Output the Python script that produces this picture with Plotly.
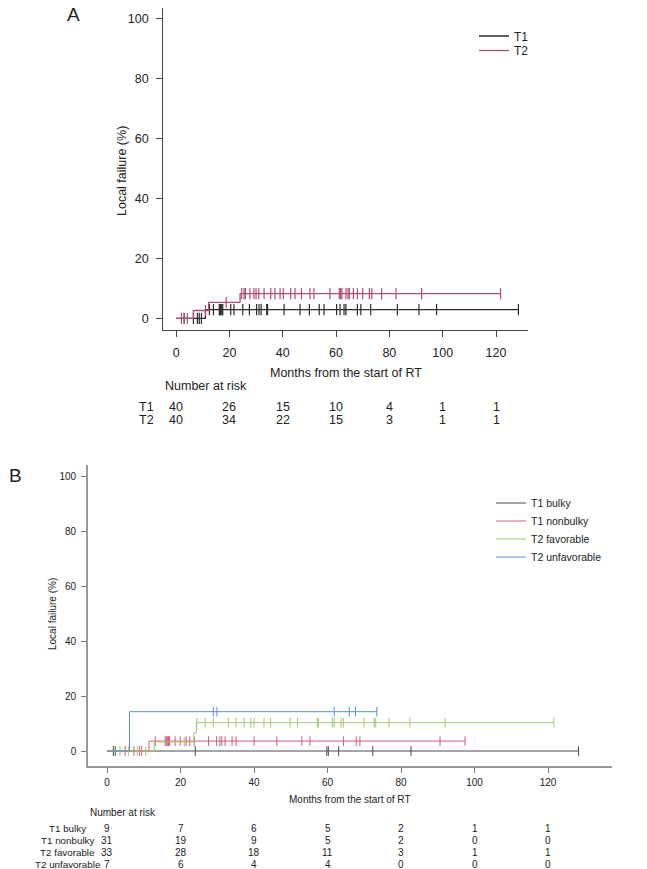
import numpy as np
import plotly.graph_objects as go

W, H = 647, 869
FONT = "Liberation Sans, Arial, sans-serif"

risk_months = [0, 20, 40, 60, 80, 100, 120]

# ---- panel A: T1 vs T2 ----
a_labels = ["T1", "T2"]
a_colors = ["#2b2b2b", "#b0506c"]

t1_event_t = [11.0]
t1_event_y = [2.9]
t1_censor = [3, 6.5, 8, 8.7, 9.5, 12.5, 14, 16.2, 16.4, 16.6, 16.9, 17.2, 17.5,
             20.5, 21.7, 25, 27.5, 30.2, 31.1, 31.9, 34.0, 34.3, 40.5, 46.5,
             50, 53.7, 55.5, 60.2, 61.5, 63, 63.7, 68, 69.3, 73, 83, 91.1,
             97.7, 128.4]
t1_risk = [40, 26, 15, 10, 4, 1, 1]

t2_event_t = [6.5, 12.2, 24.0]
t2_event_y = [2.6, 5.3, 8.2]
t2_censor = [2, 4.2, 11, 18.8, 24.6, 25.5, 26, 27.7, 29.2, 30.0, 31, 33, 35.5,
             37.1, 39.0, 40.2, 43.0, 44.6, 47, 50.2, 51.7, 57.7, 61.2, 61.7,
             62.2, 63.7, 64.5, 65.0, 66.5, 68.0, 70.0, 72.5, 73.4, 77.1, 82.5,
             92.1, 121.7]
t2_risk = [40, 34, 22, 15, 3, 1, 1]

# ---- panel B: four subgroups ----
b_labels = ["T1 bulky", "T1 nonbulky", "T2 favorable", "T2 unfavorable"]
b_colors = ["#4a4a4a", "#d25c78", "#a3c873", "#5a93c8"]

bulky_event_t = []
bulky_event_y = []
bulky_censor = [1.7, 2.2, 24, 59.8, 60.2, 63, 72.3, 82.7, 128.3]
bulky_risk = [9, 7, 6, 5, 2, 1, 1]

nonbulky_event_t = [11.4]
nonbulky_event_y = [3.6]
nonbulky_censor = [4.9, 7.3, 8.8, 9.4, 13.1, 15.8, 16.1, 16.4, 16.7, 17.0, 18.5,
                   19.9, 21.5, 22.5, 23.7, 27.6, 29.8, 30.7, 31.2, 32.1, 34.0,
                   35.1, 40.0, 46.2, 53.0, 55.2, 64.3, 67.8, 68.8, 90.6, 97.4]
nonbulky_risk = [31, 19, 9, 5, 2, 0, 0]

fav_event_t = [12.8, 23.6, 24.3]
fav_event_y = [3.3, 6.6, 10.3]
fav_censor = [3.5, 5.8, 8.2, 10.5, 21, 24.4, 26.7, 28.9, 33, 35.1, 37.3, 39.1,
              40.0, 42.7, 44.5, 49.8, 51.8, 57.2, 57.5, 61.3, 61.8, 63.7, 64.3,
              69.9, 72.7, 73.1, 76.7, 82.4, 92.0, 121.6]
fav_risk = [33, 28, 18, 11, 3, 1, 1]

unfav_event_t = [6.1]
unfav_event_y = [14.3]
unfav_censor = [28.9, 29.9, 61.8, 65.9, 67.6, 73.4]
unfav_risk = [7, 6, 4, 4, 0, 0, 0]


def curve(ev_t, ev_y, cens):
    end = max(cens + ev_t)
    xs = [0] + list(ev_t) + [end]
    ys = [0] + list(ev_y) + [ev_y[-1] if ev_y else 0]
    lv = np.array([0] + list(ev_y))
    cy = lv[np.searchsorted(ev_t, cens, side="right")] if ev_t else np.zeros(len(cens))
    return xs, ys, cy


def px(v):
    return v / W


def py(v):
    return 1 - v / H


fig = go.Figure()
legends = {}

# legend rows (pixel y of each entry) - one plotly legend per entry
a_leg_y = [36, 50.5]
b_leg_y = [503, 521, 539, 557]

panel_a = [(t1_event_t, t1_event_y, t1_censor), (t2_event_t, t2_event_y, t2_censor)]
for i, ((et, ey, c), name, col) in enumerate(zip(panel_a, a_labels, a_colors)):
    lg = "legend" if i == 0 else "legend%d" % (i + 1)
    legends[lg] = dict(x=px(474), y=py(a_leg_y[i]), font=dict(size=12))
    xs, ys, cy = curve(et, ey, c)
    fig.add_trace(go.Scatter(x=xs, y=ys, mode="lines", line_shape="hv", name=name,
                             line=dict(color=col, width=1.3), xaxis="x", yaxis="y",
                             legend=lg))
    fig.add_trace(go.Scatter(x=c, y=cy, mode="markers", showlegend=False,
                             marker=dict(symbol="line-ns", size=8,
                                         line=dict(color=col, width=1.2)),
                             xaxis="x", yaxis="y"))

panel_b = [(bulky_event_t, bulky_event_y, bulky_censor),
           (nonbulky_event_t, nonbulky_event_y, nonbulky_censor),
           (fav_event_t, fav_event_y, fav_censor),
           (unfav_event_t, unfav_event_y, unfav_censor)]
for i, ((et, ey, c), name, col) in enumerate(zip(panel_b, b_labels, b_colors)):
    lg = "legend%d" % (i + 3)
    legends[lg] = dict(x=px(491), y=py(b_leg_y[i]), font=dict(size=10.5))
    xs, ys, cy = curve(et, ey, c)
    fig.add_trace(go.Scatter(x=xs, y=ys, mode="lines", line_shape="hv", name=name,
                             line=dict(color=col, width=1), xaxis="x2", yaxis="y2",
                             legend=lg))
    fig.add_trace(go.Scatter(x=c, y=cy, mode="markers", showlegend=False,
                             marker=dict(symbol="line-ns", size=7,
                                         line=dict(color=col, width=1)),
                             xaxis="x2", yaxis="y2"))

for lg in legends.values():
    lg.update(xanchor="left", yanchor="middle", itemwidth=30,
              bgcolor="rgba(0,0,0,0)", borderwidth=0)

ax_common = dict(showgrid=False, zeroline=False, showline=True, ticks="outside",
                 tickmode="array", tickvals=risk_months)

fig.update_layout(
    width=W, height=H, autosize=False,
    margin=dict(l=0, r=0, t=0, b=0),
    plot_bgcolor="white", paper_bgcolor="white",
    font=dict(family=FONT, color="#222"),
    xaxis=dict(ax_common, domain=[px(163.3), px(528)], range=[-4.8, 132],
               anchor="y", linecolor="#444", linewidth=1.2, ticklen=6,
               tickcolor="#444", tickfont=dict(size=12.5), ticklabelstandoff=5),
    yaxis=dict(ax_common, domain=[py(330), py(8.3)], range=[-3.9, 103.3],
               tickvals=[0, 20, 40, 60, 80, 100],
               anchor="x", linecolor="#444", linewidth=1.2, ticklen=6,
               tickcolor="#444", tickfont=dict(size=12.5), ticklabelstandoff=5),
    xaxis2=dict(ax_common, domain=[px(88), px(612)], range=[-5.2, 137.4],
                anchor="y2", linecolor="#999", linewidth=1.6, ticklen=5,
                tickcolor="#777", tickfont=dict(size=10), ticklabelstandoff=1),
    yaxis2=dict(ax_common, domain=[py(766), py(465)], range=[-5.45, 104],
                tickvals=[0, 20, 40, 60, 80, 100],
                anchor="x2", linecolor="#999", linewidth=1.6, ticklen=5,
                tickcolor="#777", tickfont=dict(size=10), ticklabelstandoff=3),
    **legends,
)

ann = []
ann.append(dict(text="A", x=px(73), y=py(15), font=dict(size=19)))
ann.append(dict(text="B", x=px(7), y=py(475), font=dict(size=19), xanchor="left"))
ann.append(dict(text="Months from the start of RT", x=px(346), y=py(373),
                font=dict(size=12.5)))
ann.append(dict(text="Months from the start of RT", x=px(350), y=py(799),
                font=dict(size=10)))
ann.append(dict(text="Local failure (%)", x=px(122), y=py(171), textangle=-90,
                font=dict(size=12.5)))
ann.append(dict(text="Local failure (%)", x=px(52), y=py(614), textangle=-90,
                font=dict(size=10)))
ann.append(dict(text="Number at risk", x=px(163), y=py(386), xanchor="left",
                font=dict(size=12.5)))
ann.append(dict(text="Number at risk", x=px(88), y=py(812), xanchor="left",
                font=dict(size=10)))
for row_y, lab, risk in zip([406.5, 420], a_labels, [t1_risk, t2_risk]):
    ann.append(dict(text=lab, x=px(146), y=py(row_y), font=dict(size=12.5)))
    for m, n in zip(risk_months, risk):
        ann.append(dict(text=str(n), x=m, xref="x", y=py(row_y),
                        font=dict(size=12.5)))
b_risks = [bulky_risk, nonbulky_risk, fav_risk, unfav_risk]
for row_y, lab, risk in zip([828, 840, 852, 864], b_labels, b_risks):
    ann.append(dict(text=lab, x=px(67.5), y=py(row_y), font=dict(size=9.8)))
    for m, n in zip(risk_months, risk):
        ann.append(dict(text=str(n), x=m, xref="x2", y=py(row_y),
                        font=dict(size=10)))

for a in ann:
    a.setdefault("xref", "paper")
    a.setdefault("xanchor", "center")
    a.update(yref="paper", yanchor="middle", showarrow=False)
fig.update_layout(annotations=ann)

fig.write_html("out.html", config={"displayModeBar": False},
               post_script="document.body.style.margin='0';"
                           "document.body.style.overflow='hidden';")
